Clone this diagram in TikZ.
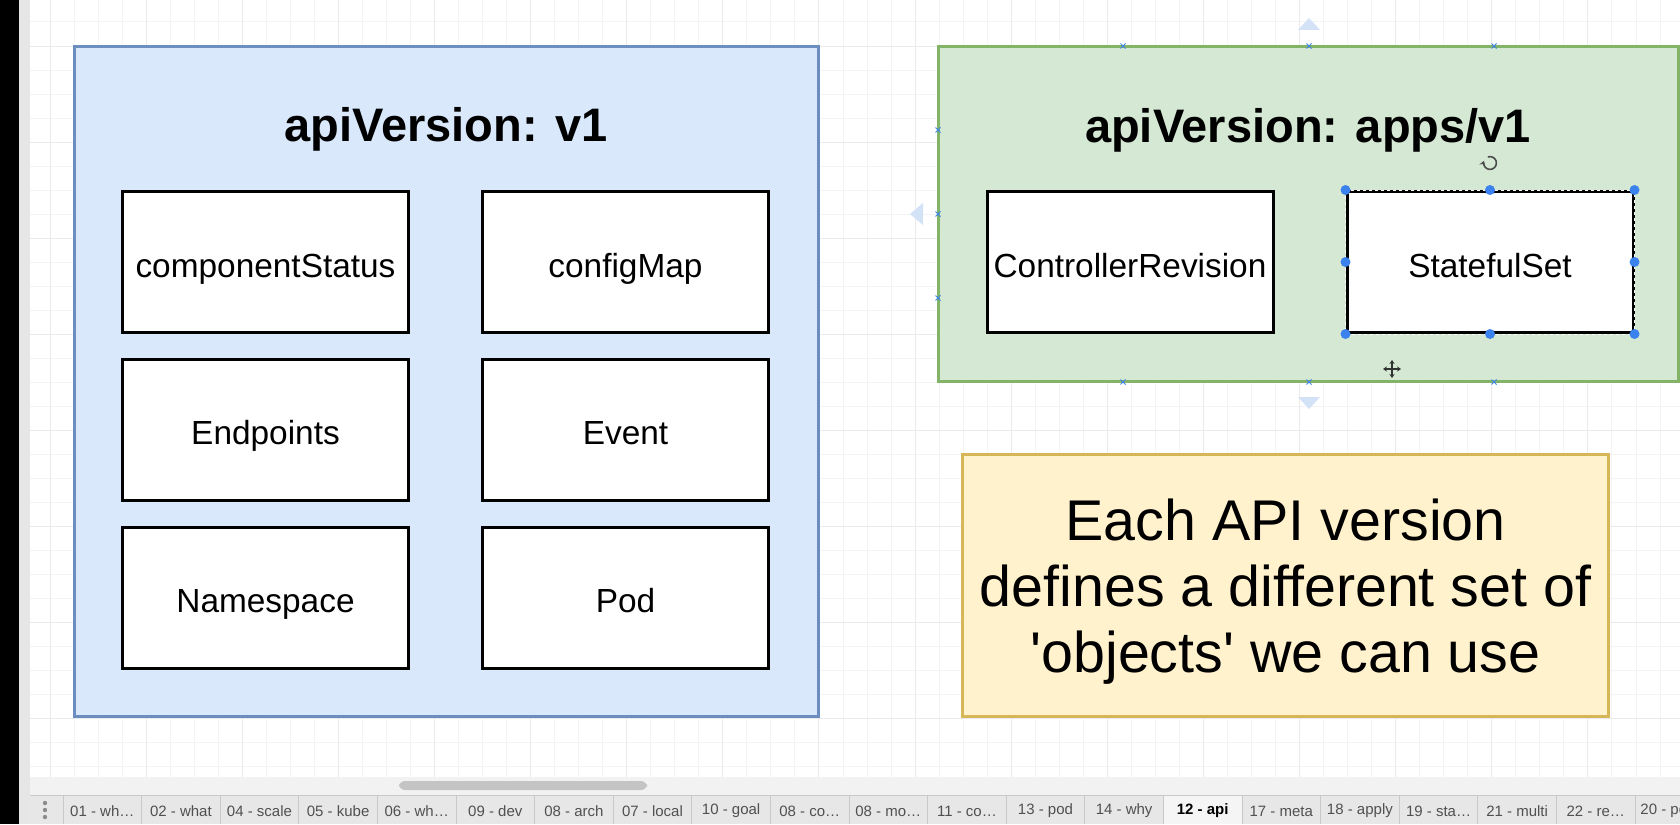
\documentclass[tikz,border=0pt]{standalone}
\usepackage{fontspec}
\setmainfont{Liberation Sans}
\usetikzlibrary{calc}
\usetikzlibrary{arrows.meta}

\definecolor{vonefill}{HTML}{DAE8FC}
\definecolor{voneline}{HTML}{6C8EBF}
\definecolor{appsfill}{HTML}{D5E8D4}
\definecolor{appsline}{HTML}{82B366}
\definecolor{notefill}{HTML}{FFF2CC}
\definecolor{noteline}{HTML}{D6B656}
\definecolor{gridminor}{HTML}{F4F4F4}
\definecolor{gridmajor}{HTML}{EAEAEA}
\definecolor{handleblue}{HTML}{3B82EE}
\definecolor{hoverblue}{HTML}{D3E2F7}
\definecolor{sidegray}{HTML}{E6E6E6}
\definecolor{scrollstrip}{HTML}{F2F2F2}
\definecolor{thumbgray}{HTML}{C4C4C4}
\definecolor{tabbg}{HTML}{E7E7E7}
\definecolor{tabline}{HTML}{C9C9C9}
\definecolor{tabtext}{HTML}{505050}

\tikzset{
    kindbox/.style={draw=black, line width=1.5pt, fill=white, minimum width=143pt, minimum height=70.5pt,
        inner sep=0pt, text height=18.5pt, text depth=3.5pt, font=\fontsize{16.7}{20}\selectfont},
    grouptitle/.style={inner sep=0pt, font=\bfseries\fontsize{23.5}{28}\selectfont},
    notebox/.style={draw=noteline, fill=notefill, line width=1.5pt, minimum width=323pt, minimum height=131pt, inner sep=0pt},
    notetext/.style={inner sep=0pt, align=center, font=\fontsize{28.7}{33}\selectfont},
    handledot/.style={circle, fill=handleblue, inner sep=0pt, minimum size=5pt},
    tabcell/.style={inner sep=0pt, font=\fontsize{7.5}{9}\selectfont, text=tabtext},
}

\begin{document}
\begin{tikzpicture}[x=0.5pt, y=-0.5pt]
        \useasboundingbox (0,0) rectangle (1680,824);
        \clip (0,0) rectangle (1680,824);
        \fill[white] (0,0) rectangle (1680,824);
        % canvas grid
        \foreach \k in {2,...,69}
            \draw[gridminor, line width=0.5pt] (1.94+24.03*\k, 0) -- (1.94+24.03*\k, 777);
        \foreach \k in {1,...,32}
            \draw[gridminor, line width=0.5pt] (30, -2.03+24.03*\k) -- (1680, -2.03+24.03*\k);
        \foreach \k in {2,6,...,66}
            \draw[gridmajor, line width=0.5pt] (1.94+24.03*\k, 0) -- (1.94+24.03*\k, 777);
        \foreach \k in {2,6,...,30}
            \draw[gridmajor, line width=0.5pt] (30, -2.03+24.03*\k) -- (1680, -2.03+24.03*\k);
        % groups
        \draw[voneline, fill=vonefill, line width=1.5pt] (74.5,46.5) rectangle (818.5,716.5);
        \draw[appsline, fill=appsfill, line width=1.5pt] (938.5,46.5) rectangle (1678.5,381.5);
        \node[grouptitle] (vonetitle) at (446,129) {apiVersion: v1};
        \node[grouptitle] (appstitle) at (1308,130) {apiVersion: apps/v1};
        \node[kindbox] (compstatus) at (265.5,262) {componentStatus};
        \node[kindbox] (configmap) at (625.5,262) {configMap};
        \node[kindbox] (endpoints) at (265.5,429.5) {Endpoints};
        \node[kindbox] (event) at (625.5,429.5) {Event};
        \node[kindbox] (namespace) at (265.5,597.5) {Namespace};
        \node[kindbox] (pod) at (625.5,597.5) {Pod};
        \node[kindbox] (ctrlrev) at (1130,262) {ControllerRevision};
        \node[kindbox] (statefulset) at (1490,262) {StatefulSet};
        \node[notebox] (note) at (1285.5,585.5) {};
        \node[notetext] (notetext) at ($(note.center)+(0,6.5)$) {Each API version\\defines a different set of\\\textquotesingle objects\textquotesingle\ we can use};
        % selection of the StatefulSet box
        \draw[white, line width=0.5pt, dash pattern=on 1.5pt off 1.5pt] (statefulset.north west) rectangle (statefulset.south east);
        \foreach \a/\b in {north west/nw, north/n, north east/ne, west/w, east/e, south west/sw, south/s, south east/se}
            \node[handledot] (handle\b) at (statefulset.\a) {};
        \coordinate (rotcenter) at (1490,163);
        \draw[black!70, line width=0.8pt, -{Stealth[length=2.5pt, width=3pt]}] (rotcenter) ++(110:3.2pt) arc[start angle=110, end angle=-200, radius=3.2pt];
        \coordinate (movecursor) at (1392,369);
        \foreach \d in {0,90,180,270}
            \draw[black!80, line width=0.6pt, -{Stealth[length=2pt, width=2.6pt]}] (movecursor) -- ++(\d:4.5pt);
        \foreach \mx/\my in {1123/46, 1309/46, 1494/46, 1123/382, 1309/382, 1494/382, 938/130, 938/214, 938/298}
            \draw[handleblue, line width=0.5pt] (\mx,\my) +(-2.5,-2.5) -- +(2.5,2.5) (\mx,\my) +(-2.5,2.5) -- +(2.5,-2.5);
        \fill[hoverblue] (1298,30) -- (1320,30) -- (1309,18) -- cycle;
        \fill[hoverblue] (923,203) -- (923,225) -- (910,214) -- cycle;
        \fill[hoverblue] (1298,397) -- (1320,397) -- (1309,409) -- cycle;
        % window frame and page tabs
        \fill[black] (0,0) rectangle (19,824);
        \fill[sidegray] (19,0) rectangle (30,824);
        \fill[scrollstrip] (30,777) rectangle (1680,795);
        \fill[thumbgray, rounded corners=3pt] (399,781) rectangle (647,790);
        \fill[tabbg] (30,795) rectangle (1680,824);
        \fill[white!60!tabbg] (63+78.6*14,795) rectangle (63+78.6*15,824);
        \draw[tabline, line width=0.5pt] (30,795) -- (1680,795);
        \foreach \dy in {803,810,817}
            \fill[black!45] (45,\dy) circle (1.1pt);
        \foreach \tabname [count=\i from 0] in {01 - wh\ldots, 02 - what, 04 - scale, 05 - kube, 06 - wh\ldots, 09 - dev,
                08 - arch, 07 - local, 10 - goal, 08 - co\ldots, 08 - mo\ldots, 11 - co\ldots, 13 - pod, 14 - why, 12 - api,
                17 - meta, 18 - apply, 19 - sta\ldots, 21 - multi, 22 - re\ldots} {
            \draw[tabline, line width=0.5pt] (63+78.6*\i,795) -- (63+78.6*\i,824);
            \node[tabcell] (tab\i) at (102.3+78.6*\i,811) {\ifnum\i=14 \bfseries\color{black}\fi\tabname};
        }
        \draw[tabline, line width=0.5pt] (63+78.6*20,795) -- (63+78.6*20,824);
        \node[tabcell, anchor=west] (tablast) at (1640,811) {20 - po};
\end{tikzpicture}
\end{document}
